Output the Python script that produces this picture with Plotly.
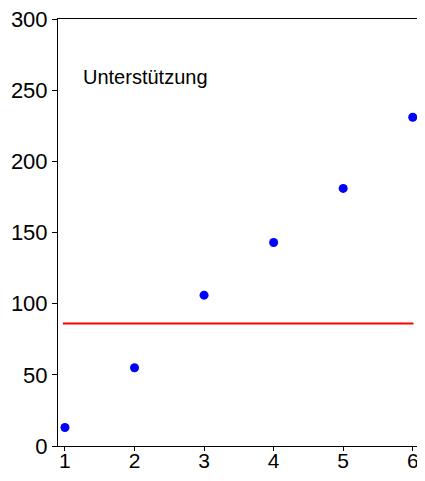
import plotly.graph_objects as go

x_vals = [1, 2, 3, 4, 5, 6]
y_vals = [13, 55, 106, 143, 181, 231]
line_x = [0.97, 6.01]
line_y = [86, 86]
label_text = "Unterstützung"
tick_vals_y = [0, 50, 100, 150, 200, 250, 300]
tick_vals_x = [1, 2, 3, 4, 5, 6]

fig = go.Figure()
fig.add_trace(go.Scatter(x=line_x, y=line_y, mode="lines",
                         line=dict(color="#ff0000", width=2), showlegend=False))
fig.add_trace(go.Scatter(x=x_vals, y=y_vals, mode="markers",
                         marker=dict(color="#0000ff", size=9), showlegend=False,
                         cliponaxis=False))
fig.add_annotation(x=0.064, y=0.864, xref="paper", yref="paper", text=label_text,
                   showarrow=False, xanchor="left", yanchor="middle",
                   font=dict(family="Liberation Sans, Arial", size=20, color="black"))
fig.update_layout(
    width=417, height=465,
    margin=dict(l=50, r=6, t=11, b=27),
    paper_bgcolor="white", plot_bgcolor="white",
    font=dict(family="Liberation Sans, Arial", size=22, color="black"),
    xaxis=dict(range=[0.9, 6.09], tickvals=tick_vals_x, ticks="outside", ticklen=4,
               tickcolor="black", showgrid=False, zeroline=False, showline=True,
               linecolor="black", linewidth=1, mirror=True, ticklabeloverflow="allow",
               automargin=False, ticklabelstandoff=-8, tickfont=dict(size=21)),
    yaxis=dict(range=[0, 300], tickvals=tick_vals_y, ticks="outside", ticklen=5,
               tickcolor="black", showgrid=False, zeroline=False, showline=True,
               linecolor="black", linewidth=1, mirror=True, ticklabeloverflow="allow",
               automargin=False),
)
fig.write_html("out.html")
